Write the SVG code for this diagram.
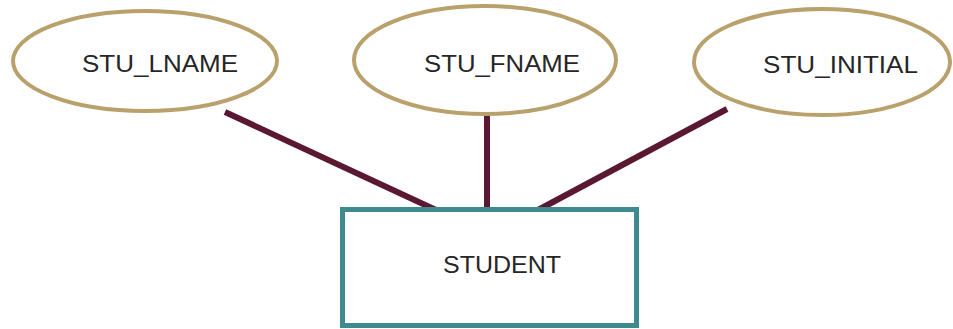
<svg xmlns="http://www.w3.org/2000/svg" width="953" height="329" viewBox="0 0 953 329">
  <style>
    .attr { fill: #ffffff; stroke: #b9a16c; stroke-width: 4; }
    .entity { fill: #ffffff; stroke: #3f8a90; stroke-width: 5; }
    .link { stroke: #5a1832; stroke-width: 6; stroke-linecap: butt; fill: none; }
    .label { font-family: "Liberation Sans", Arial, sans-serif; font-size: 24px; fill: #262626; }
  </style>
  <rect width="953" height="329" fill="#ffffff"/>
  <!-- connectors between attributes and entity -->
  <g id="connectors">
    <line class="link" x1="225" y1="112" x2="436" y2="210"/>
    <line class="link" x1="487" y1="113" x2="487" y2="210"/>
    <line class="link" x1="727" y1="109" x2="538" y2="210"/>
  </g>
  <g id="stu_lname">
    <ellipse class="attr" cx="145" cy="61" rx="132" ry="50"/>
    <text class="label" x="82" y="72" textLength="156" lengthAdjust="spacingAndGlyphs">STU_LNAME</text>
  </g>
  <g id="stu_fname">
    <ellipse class="attr" cx="485" cy="60" rx="131" ry="54"/>
    <text class="label" x="424" y="72" textLength="156" lengthAdjust="spacingAndGlyphs">STU_FNAME</text>
  </g>
  <g id="stu_initial">
    <ellipse class="attr" cx="822" cy="62" rx="128" ry="53"/>
    <text class="label" x="763" y="73" textLength="155" lengthAdjust="spacingAndGlyphs">STU_INITIAL</text>
  </g>
  <g id="student">
    <rect class="entity" x="342.5" y="209.5" width="294" height="116"/>
    <text class="label" x="443" y="273" textLength="118" lengthAdjust="spacingAndGlyphs">STUDENT</text>
  </g>
</svg>
